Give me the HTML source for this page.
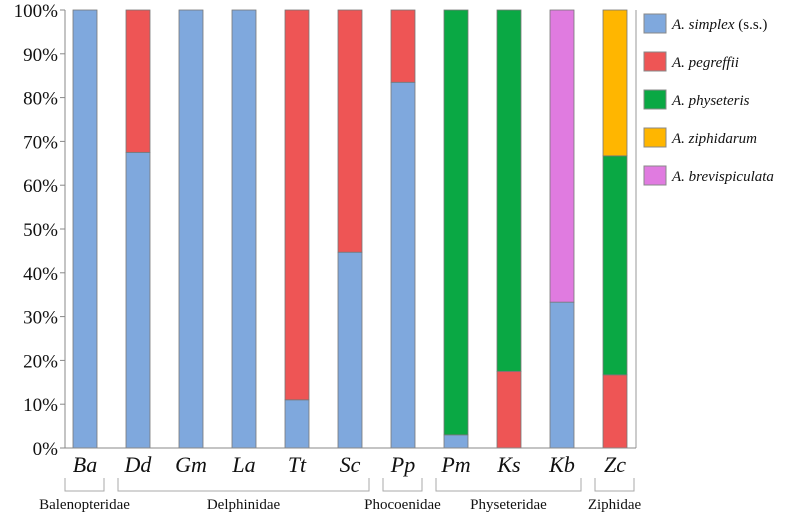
<!DOCTYPE html>
<html><head><meta charset="utf-8"><style>
body{margin:0;background:#fff;}
svg text{font-family:"Liberation Serif",serif;fill:#111;}
</style></head><body>
<svg id="c" width="786" height="516" xmlns="http://www.w3.org/2000/svg"></svg>
<script>
const categories=["Ba","Dd","Gm","La","Tt","Sc","Pp","Pm","Ks","Kb","Zc"];
const seriesNames=["A. simplex","A. pegreffii","A. physeteris","A. ziphidarum","A. brevispiculata"];
const simplex=[100,67.5,100,100,11,44.7,83.5,3,0,33.3,0];
const pegreffii=[0,32.5,0,0,89,55.3,16.5,0,17.5,0,16.7];
const physeteris=[0,0,0,0,0,0,0,97,82.5,0,50];
const ziphidarum=[0,0,0,0,0,0,0,0,0,0,33.3];
const brevispiculata=[0,0,0,0,0,0,0,0,0,66.7,0];
const yTicks=[0,10,20,30,40,50,60,70,80,90,100];
const families=["Balenopteridae","Delphinidae","Phocoenidae","Physeteridae","Ziphidae"];
const familySpans=[[0,0],[1,5],[6,6],[7,9],[10,10]];
const colors=["#7fa8dd","#ee5555","#0aa844","#ffb600","#e07be0"];
const svg=document.getElementById('c');const NS="http://www.w3.org/2000/svg";
function mk(t,a,p){const e=document.createElementNS(NS,t);for(const k in a)e.setAttribute(k,a[k]);(p||svg).appendChild(e);return e;}
const x0=65,x1=636,yB=448,yT=10,step=53,bw=24;
const y=v=>yB-(yB-yT)*v/100;
const xc=i=>85+i*step;
mk('line',{x1:x1,y1:yT,x2:x1,y2:yB,stroke:'#999'});
yTicks.forEach(t=>{const l=mk('line',{x1:x0-5,y1:y(t),x2:x0,y2:y(t),stroke:'#888'});

const tx=mk('text',{x:x0-7,y:y(t)+7,'text-anchor':'end','font-size':19});tx.textContent=t+'%';
});
const series=[simplex,pegreffii,physeteris,ziphidarum,brevispiculata];
categories.forEach((c,i)=>{let acc=0;series.forEach((s,j)=>{const v=s[i];if(v>0){const r=mk('rect',{x:xc(i)-bw/2,y:y(acc+v),width:bw,height:y(acc)-y(acc+v),fill:colors[j],stroke:'#777','stroke-width':0.8});
}acc+=v;});
const t=mk('text',{x:xc(i),y:472,'text-anchor':'middle','font-size':22,'font-style':'italic'});t.textContent=c;
});
mk('line',{x1:x0,y1:yT,x2:x0,y2:yB,stroke:'#888'});
mk('line',{x1:x0,y1:yB,x2:x1,y2:yB,stroke:'#888'});
families.forEach((f,k)=>{const a=xc(familySpans[k][0])-20,b=xc(familySpans[k][1])+19;
const p=mk('path',{d:`M${a} 478V491H${b}V478`,fill:'none',stroke:'#aaa'});

const t=mk('text',{x:(a+b)/2,y:509,'text-anchor':'middle','font-size':15});t.textContent=f;
});
seriesNames.forEach((n,j)=>{const yy=14+j*38;
const r=mk('rect',{x:644,y:yy,width:22,height:19,fill:colors[j],stroke:'#888'});

const t=mk('text',{x:672,y:yy+15,'font-size':15,'font-style':'italic'});t.textContent=n;
if(j===0){const s=mk('tspan',{'font-style':'normal'},t);s.textContent=' (s.s.)';}
});
</script>
</body></html>
